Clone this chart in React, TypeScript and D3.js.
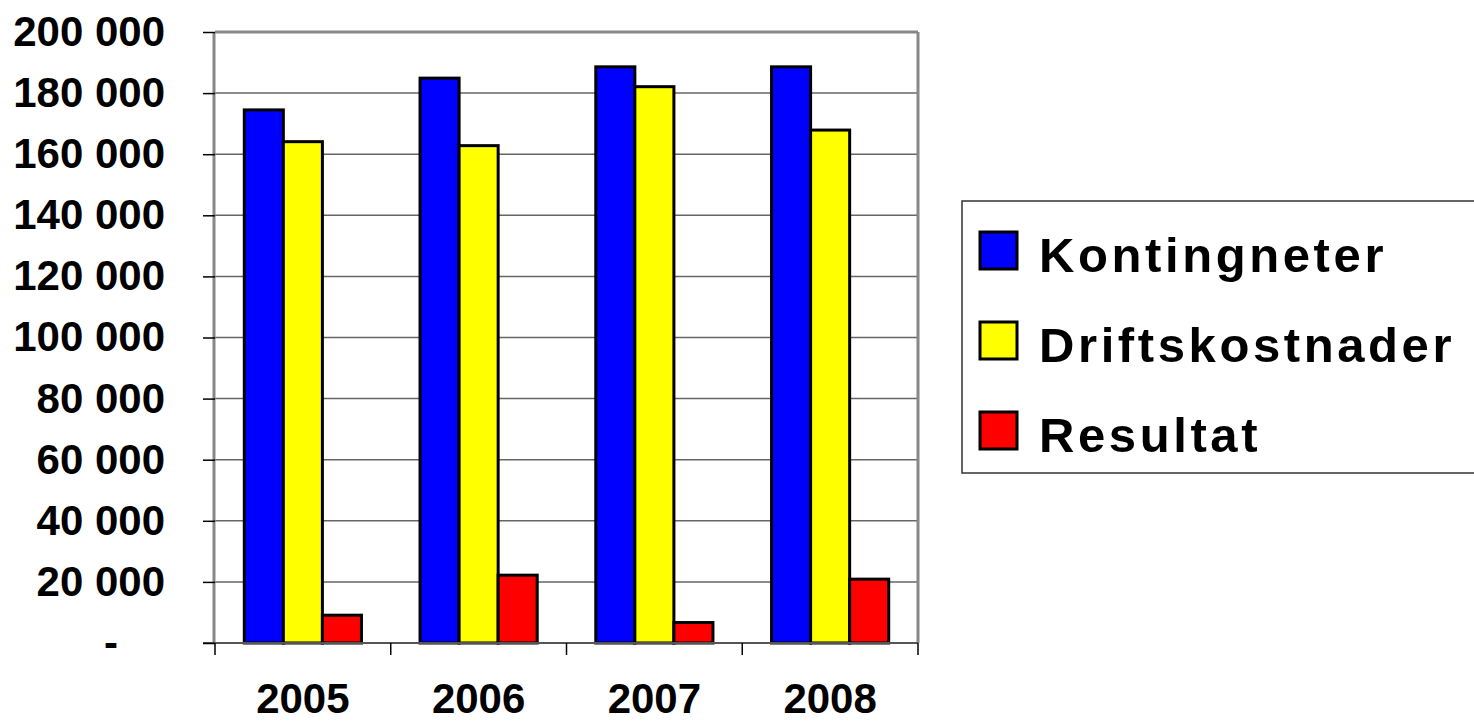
import {useEffect, useRef} from "react";
import * as d3 from "d3";

const SvgWidth = 1474;
const SvgHeight = 722;

const years = ["2005", "2006", "2007", "2008"];
const seriesNames = ["Kontingneter", "Driftskostnader", "Resultat"];
const kontingenter = [174500, 184900, 188600, 188600];
const driftskostnader = [164100, 162800, 182100, 167900];
const resultat = [9100, 22200, 6700, 20900];
const yTicks = [0, 20000, 40000, 60000, 80000, 100000, 120000, 140000, 160000, 180000, 200000];

const seriesColors = ["#0000FF", "#FFFF00", "#FF0000"];
const fontFamily = "'Liberation Sans', Arial, sans-serif";

function formatTick(v) {
    if (v === 0) return "-";
    return d3.format(",")(v).replace(/,/g, " ");
}

function App() {
    const xAxisRef = useRef(null);
    const yAxisRef = useRef(null);

    const left = 215;
    const right = 918;
    const top = 32;
    const bottom = 643;

    const x0 = d3.scaleBand().domain(years).range([left, right]).padding(0);
    const x1 = d3.scaleBand().domain(seriesNames).range([0, x0.bandwidth()]).paddingInner(0).paddingOuter(0.75);
    const y = d3.scaleLinear().domain([0, 200000]).range([bottom, top]);

    const allSeries = [kontingenter, driftskostnader, resultat];

    useEffect(() => {
        const yAxisElm = d3.select(yAxisRef.current);
        yAxisElm.call(d3.axisLeft(y).tickValues(yTicks).tickSize(12).tickPadding(38).tickFormat(formatTick));
        yAxisElm.select(".domain").remove();
        yAxisElm.selectAll(".tick line").attr("stroke", "#000").attr("stroke-width", 1.5);
        yAxisElm.selectAll(".tick text")
            .attr("font-family", fontFamily)
            .attr("font-weight", "bold")
            .attr("font-size", 42)
            .attr("fill", "#000")
            // the zero label "-" sits further left (accounting format)
            .attr("dx", d => (d === 0 ? -47 : 0));

        const xAxisElm = d3.select(xAxisRef.current);
        const boundaries = years.map(d => x0(d)).concat([right]);
        xAxisElm.selectAll("line.sep")
            .data(boundaries)
            .join("line")
            .attr("class", "sep")
            .attr("x1", d => d).attr("x2", d => d)
            .attr("y1", bottom).attr("y2", bottom + 12)
            .attr("stroke", "#000").attr("stroke-width", 1.5);
        xAxisElm.selectAll("text.lbl")
            .data(years)
            .join("text")
            .attr("class", "lbl")
            .attr("x", d => x0(d) + x0.bandwidth() / 2)
            .attr("y", 713)
            .attr("text-anchor", "middle")
            .attr("font-family", fontFamily)
            .attr("font-weight", "bold")
            .attr("font-size", 42)
            .text(d => d);
    }, []);

    return (
        <svg width={SvgWidth} height={SvgHeight} style={{position: "absolute", left: 0, top: 0, background: "#fff"}}>
            {/* grid */}
            {yTicks.filter(t => t > 0 && t < 200000).map(t => (
                <line key={t} x1={left} x2={right} y1={y(t)} y2={y(t)} stroke="#666" strokeWidth={1.5}/>
            ))}
            {/* frame */}
            <line x1={left} x2={right} y1={top} y2={top} stroke="#888" strokeWidth={3}/>
            <line x1={right} x2={right} y1={top} y2={bottom} stroke="#888" strokeWidth={3}/>
            <line x1={left - 1} x2={left - 1} y1={top} y2={bottom} stroke="#888" strokeWidth={3}/>

            {/* bars */}
            {years.map((yr, i) => (
                <g key={yr} transform={`translate(${x0(yr)},0)`}>
                    {seriesNames.map((s, j) => (
                        <rect key={s}
                              x={x1(s)}
                              y={y(allSeries[j][i])}
                              width={x1.bandwidth()}
                              height={bottom - y(allSeries[j][i])}
                              fill={seriesColors[j]}
                              stroke="#000"
                              strokeWidth={3}/>
                    ))}
                </g>
            ))}

            <line x1={left - 12} x2={right} y1={bottom} y2={bottom} stroke="#555" strokeWidth={2}/>
            <g ref={yAxisRef} transform={`translate(${left},0)`}></g>
            <g ref={xAxisRef}></g>

            {/* legend */}
            <rect x={962} y={201} width={530} height={272} fill="#fff" stroke="#333" strokeWidth={1.5}/>
            {seriesNames.map((s, j) => (
                <g key={s} transform={`translate(980, ${232 + j * 90})`}>
                    <rect x={0} y={0} width={37} height={37} fill={seriesColors[j]} stroke="#000" strokeWidth={3}/>
                    <text x={59} y={40} fontFamily={fontFamily} fontWeight="bold" fontSize={49} letterSpacing={3.6}>{s}</text>
                </g>
            ))}
        </svg>
    );
}

export default App;
